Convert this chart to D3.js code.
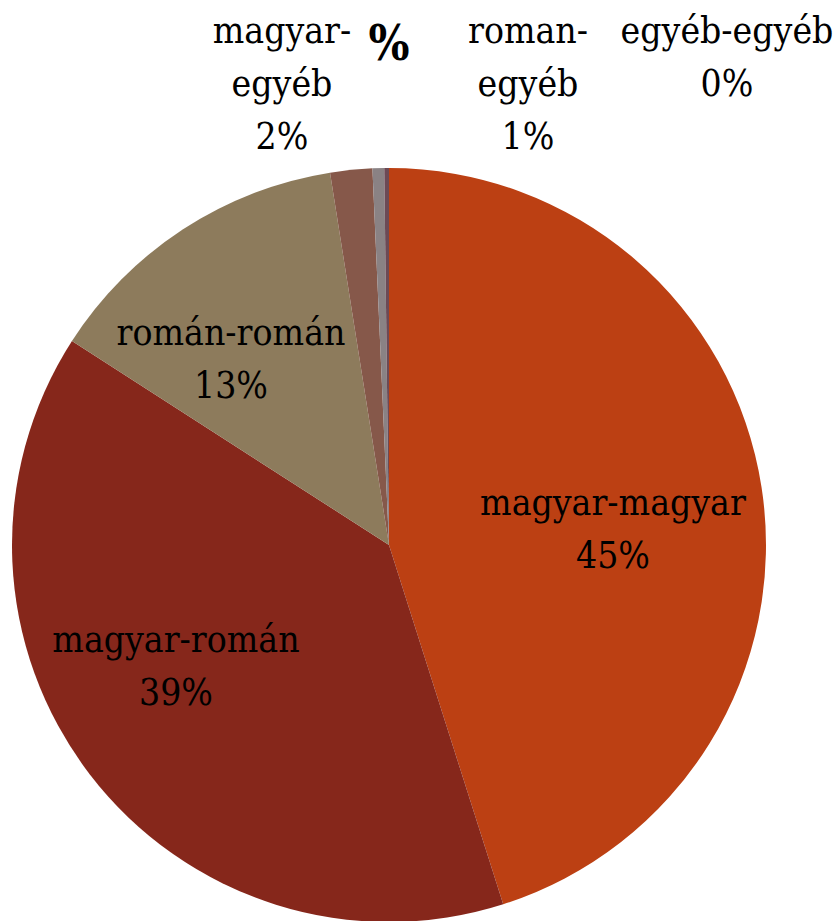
<!DOCTYPE html>
<html>
<head>
<meta charset="utf-8">
<script src="https://cdn.jsdelivr.net/npm/d3@7"></script>
<style>
  body { margin: 0; background: #fff; }
  svg text { font-family: "DejaVu Serif Condensed", "DejaVu Serif", serif; font-stretch: condensed; }
</style>
</head>
<body>
<div class="chart"></div>
<script>
// pie data (clockwise from 12 o'clock)
let categories = ["magyar-magyar", "magyar-román", "román-román", "magyar-egyéb", "roman-egyéb", "egyéb-egyéb"];
let values = [45.1, 39.0, 13.4, 1.8, 0.5, 0.2];
let labelLines = [["magyar-magyar"], ["magyar-román"], ["román-román"], ["magyar-", "egyéb"], ["roman-", "egyéb"], ["egyéb-egyéb"]];
let colors = ["#bc4013", "#86271b", "#8d7b5c", "#86584a", "#8a8284", "#6c4a55"];

let svgWidth = 840;
let svgHeight = 921;
let cx = 389, cy = 545, radius = 377;

let svg = d3.select(".chart")
  .append("svg")
  .attr("width", svgWidth)
  .attr("height", svgHeight);

let chart = svg.append("g")
  .attr("transform", `translate(${cx}, ${cy})`);

let data = categories.map((c, i) => ({ name: c, value: values[i], lines: labelLines[i], color: colors[i] }));

let pie = d3.pie().sort(null).value(d => d.value);
let arc = d3.arc().innerRadius(0).outerRadius(radius);

let arcs = pie(data);

chart.selectAll("path")
  .data(arcs)
  .enter()
  .append("path")
  .attr("d", arc)
  .attr("fill", d => d.data.color);

// label anchors (x centre, first baseline), relative to the svg
let labelPos = [
  [613, 515],
  [176, 652],
  [231, 345],
  [282, 43],
  [528, 43],
  [727, 43]
];
let lineStep = 53;

arcs.forEach(function(d, i) {
  let pct = Math.round(d.data.value) + "%";
  let lines = d.data.lines.concat([pct]);
  let t = svg.append("text")
    .attr("text-anchor", "middle")
    .attr("font-size", "37px")
    .attr("fill", "#000");
  lines.forEach(function(line, j) {
    t.append("tspan")
      .attr("x", labelPos[i][0])
      .attr("y", labelPos[i][1] + j * lineStep)
      .text(line);
  });
});

// stray bold percent sign next to the top labels
svg.append("text")
  .attr("x", 389)
  .attr("y", 60)
  .attr("text-anchor", "middle")
  .attr("font-size", "48px")
  .attr("font-weight", "bold")
  .attr("fill", "#000")
  .text("%");
</script>
</body>
</html>
